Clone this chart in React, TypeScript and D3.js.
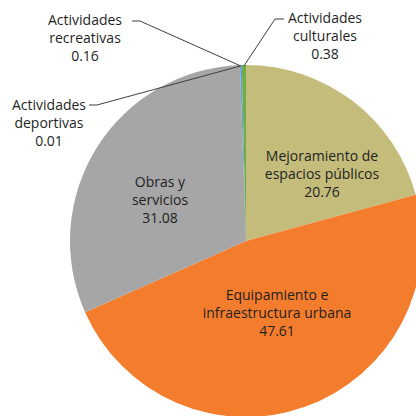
import React from "react";
import * as d3 from "d3";

const categories = [
  "Mejoramiento de espacios públicos",
  "Equipamiento e infraestructura urbana",
  "Obras y servicios",
  "Actividades deportivas",
  "Actividades recreativas",
  "Actividades culturales",
];
const values = [20.76, 47.61, 31.08, 0.01, 0.16, 0.38];
const colors = ["#C4BC7B", "#F47D2D", "#A6A6A6", "#FFC000", "#5B9BD5", "#70AD47"];
const labelLines = [
  ["Mejoramiento de", "espacios públicos", "20.76"],
  ["Equipamiento e", "infraestructura urbana", "47.61"],
  ["Obras y", "servicios", "31.08"],
  ["Actividades", "deportivas", "0.01"],
  ["Actividades", "recreativas", "0.16"],
  ["Actividades", "culturales", "0.38"],
];

const W = 416, H = 416;
const cx = 246, cy = 241, R = 176;
const LH = 18;

const labelPos: [number, number][] = [
  [322, 156],
  [277, 295],
  [160, 182],
  [49, 105],
  [85, 20],
  [325, 18],
];
const leaders: Record<number, { x0: number; y0: number; x1: number; y1: number }> = {
  3: { x0: 89, y0: 105, x1: 97, y1: 105 },
  4: { x0: 132, y0: 21, x1: 140, y1: 21 },
  5: { x0: 284, y0: 19, x1: 275, y1: 19 },
};

export default function App() {
  const pie = d3.pie<number>().sort(null).value((d) => d)(values);
  const arc = d3.arc<d3.PieArcDatum<number>>().innerRadius(0).outerRadius(R);
  return (
    <svg
      width={W}
      height={H}
      style={{ position: "absolute", left: 0, top: 0, background: "#fff" }}
      fontFamily="'Open Sans', 'Noto Sans', sans-serif"
      fontSize={14}
    >
      <g transform={`translate(${cx},${cy})`}>
        {pie.map((p, i) => (
          <path key={i} d={arc(p) || ""} fill={colors[i]} />
        ))}
      </g>
      {pie.map((p, i) => {
        const L = leaders[i];
        if (!L) return null;
        const a = (p.startAngle + p.endAngle) / 2;
        const ex = cx + Math.sin(a) * (R - 1);
        const ey = cy - Math.cos(a) * (R - 1);
        return (
          <polyline
            key={"l" + i}
            points={`${L.x0},${L.y0} ${L.x1},${L.y1} ${ex},${ey}`}
            fill="none"
            stroke="#404040"
            strokeWidth={1}
          />
        );
      })}
      {labelLines.map((lines, i) => (
        <text key={"t" + i} textAnchor="middle" fill="#1f1f1f">
          {lines.map((s, j) => (
            <tspan key={j} x={labelPos[i][0]} y={labelPos[i][1] + j * LH} dy="0.35em">
              {s}
            </tspan>
          ))}
        </text>
      ))}
    </svg>
  );
}
